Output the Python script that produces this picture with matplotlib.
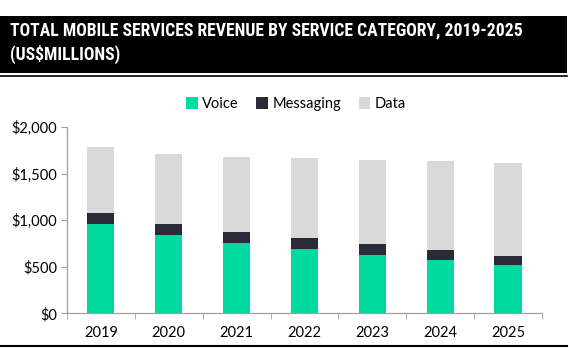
import numpy as np
import matplotlib.pyplot as plt
from matplotlib import font_manager
from matplotlib.patches import Rectangle
from matplotlib.ticker import FuncFormatter, FixedLocator

# data (US$ millions)
years = ['2019', '2020', '2021', '2022', '2023', '2024', '2025']
voice = [960, 845, 756, 692, 631, 573, 520]
messaging = [122, 115, 118, 118, 114, 108, 96]
data = [706, 753, 807, 860, 903, 957, 1000]

title = 'TOTAL MOBILE SERVICES REVENUE BY SERVICE CATEGORY, 2019-2025\n(US$MILLIONS)'

c_voice = '#00D9A0'
c_msg = '#2B2A38'
c_data = '#D9D9D9'

plt.rcParams['font.family'] = ['Lato', 'DejaVu Sans']

# narrow font for the title if there is one
installed = {f.name for f in font_manager.fontManager.ttflist}
title_family = ['Lato', 'DejaVu Sans']
for cand in ['Liberation Sans Narrow', 'Roboto Condensed', 'Open Sans Condensed',
             'Noto Sans Condensed', 'DejaVu Sans Condensed']:
    if cand in installed:
        title_family = [cand, 'Lato']
        break

fig = plt.figure(figsize=(5.69, 3.51), dpi=100)

# black title banner
W, H = 569, 351
fig.patches.append(Rectangle((0, 1 - 73 / H), 567 / W, 57 / H, transform=fig.transFigure,
                             facecolor='black', edgecolor='none'))
fig.lines.append(plt.Line2D([0, 567 / W], [1 - 76 / H] * 2, transform=fig.transFigure,
                            color='black', lw=1.2))
fig.lines.append(plt.Line2D([0, 567 / W], [1 - 346 / H] * 2, transform=fig.transFigure,
                            color='black', lw=1.5))
t = fig.text(10 / W, 1 - 43 / H, title, color='white', fontsize=13, fontweight='bold',
             va='center', ha='left', linespacing=1.35, family=title_family)
# shrink the title so the first line fits inside the banner
r = fig.canvas.get_renderer()
tw = t.get_window_extent(r).width
if tw > 510:
    t.set_fontsize(13 * 510 / tw)

ax = fig.add_axes([67 / W, 1 - 313.3 / H, 475 / W, 186 / H])
x = np.arange(len(years))
w = 0.4
ax.bar(x, voice, w, color=c_voice, label='Voice')
ax.bar(x, messaging, w, bottom=voice, color=c_msg, label='Messaging')
ax.bar(x, data, w, bottom=np.array(voice) + np.array(messaging), color=c_data, label='Data')

ax.set_xlim(-0.5, len(years) - 0.5)
ax.set_ylim(0, 2000)
ax.set_yticks([0, 500, 1000, 1500, 2000])
ax.yaxis.set_major_formatter(FuncFormatter(lambda v, p: f'${v:,.0f}'))
ax.set_xticks(x)
ax.set_xticklabels(years)
ax.xaxis.set_minor_locator(FixedLocator(np.arange(-0.5, len(years), 1)))
ax.tick_params(axis='x', which='major', length=0, labelsize=10.5, pad=9)
ax.tick_params(axis='x', which='minor', length=4, color='#A0A0A0', direction='out')
ax.tick_params(axis='y', length=4, color='#A0A0A0', labelsize=10.5, pad=3)

for s in ['top', 'right']:
    ax.spines[s].set_visible(False)
for s in ['left', 'bottom']:
    ax.spines[s].set_color('#A0A0A0')
    ax.spines[s].set_linewidth(0.9)

fig.legend(loc='center', bbox_to_anchor=(296 / W, 1 - 104 / H), ncol=3, frameon=False,
           fontsize=10.5, handlelength=0.8, handleheight=0.8, handletextpad=0.3,
           columnspacing=1.2)

fig.savefig('out.png', dpi=100)
